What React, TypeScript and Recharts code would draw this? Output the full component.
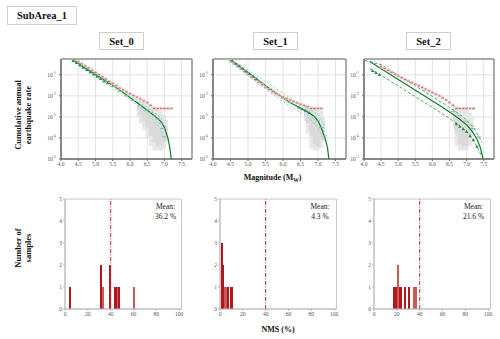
import React from "react";
import {
  ComposedChart,
  BarChart,
  Bar,
  Line,
  Area,
  XAxis,
  YAxis,
  CartesianGrid,
  ReferenceArea,
  ReferenceLine,
} from "recharts";

const FONT = '"Liberation Serif", "DejaVu Serif", serif';

// ---------- ticks / labels ----------
const MAG_TICKS = [4.0, 4.5, 5.0, 5.5, 6.0, 6.5, 7.0, 7.5];
const RATE_EXP_TICKS = [-5, -4, -3, -2, -1];
const NMS_TICKS = [0, 20, 40, 60, 80, 100];
const COUNT_TICKS = [0, 1, 2, 3, 4, 5];
const SET_NAMES = ["Set_0", "Set_1", "Set_2"];
const MEAN_LABELS = ["36.2 %", "4.3 %", "21.6 %"];
const NMS_THRESHOLD = 40;

// ---------- Set_0 (log10 of cumulative annual rate) ----------
const S0_MODEL_M = [4.35, 4.5, 4.75, 5.0, 5.25, 5.5, 5.75, 6.0, 6.25, 6.5, 6.75, 6.9, 7.0, 7.1, 7.15, 7.2];
const S0_MODEL_LOG = [-0.3, -0.45, -0.72, -0.98, -1.24, -1.5, -1.78, -2.08, -2.38, -2.68, -3.0, -3.22, -3.5, -4.0, -4.4, -5.0];
const S0_UP_M = [4.3, 4.75, 5.25, 5.75, 6.25, 6.6, 6.9, 7.05];
const S0_UP_LOG = [-0.22, -0.66, -1.16, -1.68, -2.25, -2.65, -3.05, -3.6];
const S0_LO_M = [4.4, 4.75, 5.25, 5.75, 6.25, 6.6, 6.9, 7.0];
const S0_LO_LOG = [-0.4, -0.8, -1.33, -1.9, -2.5, -3.0, -3.6, -4.1];
const S0_OBS_M = [4.4, 4.5, 4.6, 4.7, 4.8, 4.9, 5.0, 5.1, 5.2, 5.3, 5.4, 5.5, 5.6, 5.7, 5.8, 5.9, 6.0, 6.1, 6.2, 6.3, 6.4, 6.5, 6.6, 6.7, 6.8, 6.9, 7.0, 7.1, 7.2];
const S0_OBS_LOG = [-0.28, -0.38, -0.48, -0.58, -0.68, -0.78, -0.89, -0.99, -1.1, -1.2, -1.31, -1.41, -1.52, -1.63, -1.72, -1.81, -1.9, -1.98, -2.06, -2.15, -2.24, -2.32, -2.45, -2.6, -2.6, -2.6, -2.6, -2.6, -2.6];
const S0_TRI_M = [4.35, 4.45, 4.55, 4.65, 4.75, 4.85, 4.95, 5.05, 5.15, 5.25, 5.35];
const S0_TRI_LOG = [-0.33, -0.43, -0.54, -0.65, -0.76, -0.87, -0.97, -1.08, -1.18, -1.29, -1.39];
const S0_DASH_M = [5.5, 5.7, 5.9, 6.1, 6.3, 6.5, 6.6, 6.7, 6.8, 6.9, 6.95, 7.0];
const S0_DASH_LOG = [-1.55, -1.78, -2.0, -2.22, -2.45, -2.68, -2.8, -2.95, -3.1, -3.3, -3.55, -3.95];
const S0_GRAY_M = [6.2, 6.3, 6.4, 6.5, 6.6, 6.7, 6.8, 6.9, 7.0, 7.1];
const S0_GRAY_OUT_LO = [-3.0, -3.3, -3.6, -4.0, -4.4, -4.6, -4.6, -4.6, -4.5, -4.2];
const S0_GRAY_OUT_HI = [-2.2, -2.25, -2.3, -2.35, -2.4, -2.5, -2.6, -2.7, -2.9, -3.2];
const S0_GRAY_IN_LO = [-2.7, -2.9, -3.2, -3.5, -3.9, -4.2, -4.4, -4.4, -4.2, -3.9];
const S0_GRAY_IN_HI = [-2.3, -2.4, -2.5, -2.6, -2.7, -2.8, -3.0, -3.2, -3.4, -3.5];

// ---------- Set_1 ----------
const S1_MODEL_M = [4.5, 4.75, 5.0, 5.25, 5.5, 5.75, 6.0, 6.25, 6.5, 6.75, 6.9, 7.0, 7.1, 7.2, 7.27, 7.31];
const S1_MODEL_LOG = [-0.28, -0.58, -0.89, -1.2, -1.51, -1.81, -2.1, -2.36, -2.58, -2.82, -2.98, -3.2, -3.55, -4.0, -4.45, -5.0];
const S1_UP_M = [4.35, 4.75, 5.25, 5.75, 6.25, 6.75, 7.0, 7.2];
const S1_UP_LOG = [-0.25, -0.5, -1.05, -1.6, -2.15, -2.6, -2.9, -3.4];
const S1_LO_M = [4.45, 4.75, 5.25, 5.75, 6.25, 6.75, 7.0, 7.2];
const S1_LO_LOG = [-0.38, -0.72, -1.36, -1.98, -2.55, -3.05, -3.55, -4.2];
const S1_OBS_M = [4.5, 4.6, 4.7, 4.8, 4.9, 5.0, 5.1, 5.2, 5.3, 5.4, 5.5, 5.6, 5.7, 5.8, 5.9, 6.0, 6.1, 6.2, 6.3, 6.4, 6.5, 6.6, 6.7, 6.8, 6.9, 7.0, 7.1];
const S1_OBS_LOG = [-0.32, -0.45, -0.58, -0.71, -0.84, -0.97, -1.1, -1.22, -1.35, -1.47, -1.59, -1.7, -1.8, -1.9, -1.98, -2.06, -2.13, -2.2, -2.27, -2.34, -2.4, -2.46, -2.52, -2.6, -2.6, -2.6, -2.6];
const S1_TRI_M = [4.55, 4.65, 4.75, 4.85, 4.95, 5.05, 5.15, 5.25, 6.45, 6.55, 6.65, 6.75];
const S1_TRI_LOG = [-0.34, -0.46, -0.58, -0.7, -0.83, -0.95, -1.07, -1.2, -2.54, -2.62, -2.7, -2.8];
const S1_DASH_M = [5.4, 5.6, 5.8, 6.0, 6.2, 6.9, 7.0, 7.1, 7.2];
const S1_DASH_LOG = [-1.4, -1.65, -1.88, -2.12, -2.32, -3.0, -3.2, -3.5, -3.9];
const S1_GRAY_M = [6.6, 6.7, 6.8, 6.9, 7.0, 7.1, 7.2];
const S1_GRAY_OUT_LO = [-3.2, -3.8, -4.5, -4.6, -4.6, -4.5, -4.0];
const S1_GRAY_OUT_HI = [-2.4, -2.45, -2.5, -2.55, -2.6, -2.7, -3.0];
const S1_GRAY_IN_LO = [-2.9, -3.3, -3.9, -4.3, -4.4, -4.1, -3.7];
const S1_GRAY_IN_HI = [-2.5, -2.6, -2.7, -2.9, -3.1, -3.3, -3.3];

// ---------- Set_2 ----------
const S2_MODEL_M = [4.17, 4.5, 4.75, 5.0, 5.25, 5.5, 5.75, 6.0, 6.25, 6.5, 6.75, 7.0, 7.16, 7.3, 7.4, 7.48];
const S2_MODEL_LOG = [-0.37, -0.71, -0.96, -1.22, -1.47, -1.73, -1.98, -2.24, -2.5, -2.77, -3.05, -3.38, -3.68, -4.05, -4.45, -5.0];
const S2_UP_M = [4.02, 4.5, 5.0, 5.5, 6.0, 6.5, 6.9, 7.2, 7.45];
const S2_UP_LOG = [-0.32, -0.52, -1.02, -1.52, -2.03, -2.55, -3.0, -3.5, -4.2];
const S2_LO_M = [4.17, 4.5, 5.0, 5.5, 6.0, 6.5, 6.9, 7.1, 7.3, 7.45];
const S2_LO_LOG = [-0.7, -1.02, -1.53, -2.04, -2.55, -3.07, -3.55, -3.9, -4.4, -4.9];
const S2_OBS_M = [4.5, 4.6, 4.7, 4.8, 4.9, 5.0, 5.1, 5.2, 5.3, 5.4, 5.5, 5.6, 5.7, 5.8, 5.9, 6.0, 6.1, 6.2, 6.3, 6.4, 6.5, 6.6, 6.7, 6.8, 6.9, 7.0, 7.1, 7.2];
const S2_OBS_LOG = [-0.62, -0.7, -0.79, -0.88, -0.97, -1.06, -1.14, -1.22, -1.3, -1.37, -1.44, -1.52, -1.6, -1.68, -1.76, -1.84, -1.92, -2.0, -2.1, -2.2, -2.32, -2.45, -2.6, -2.6, -2.6, -2.6, -2.6, -2.6];
const S2_TRI_M = [4.25, 4.35, 4.45, 6.7, 6.8, 6.9, 7.0, 7.1, 7.2, 7.3];
const S2_TRI_LOG = [-0.8, -0.9, -0.99, -3.34, -3.45, -3.57, -3.7, -3.9, -4.1, -4.4];
const S2_DASH_M = [6.6, 6.8, 7.0, 7.2, 7.35];
const S2_DASH_LOG = [-2.75, -2.95, -3.2, -3.55, -3.95];
const S2_GRAY_M = [6.6, 6.7, 6.8, 6.9, 7.0, 7.1, 7.2];
const S2_GRAY_OUT_LO = [-3.6, -4.4, -4.6, -4.6, -4.6, -4.4, -4.0];
const S2_GRAY_OUT_HI = [-2.4, -2.5, -2.55, -2.6, -2.65, -2.8, -3.0];
const S2_GRAY_IN_LO = [-3.2, -3.8, -4.3, -4.4, -4.4, -4.0, -3.6];
const S2_GRAY_IN_HI = [-2.6, -2.8, -3.0, -3.1, -3.2, -3.3, -3.3];

// ---------- NMS histograms ----------
const H0_X = [4, 31.5, 33.5, 39.5, 43.5, 45.5, 46.5, 47.5, 60.5];
const H0_N = [1, 2, 1, 2, 1, 1, 1, 1, 1];
const H0_LIGHT = [0, 0, 1, 0, 0, 0, 1, 0, 1];
const H1_X = [1.7, 2.6, 4.2, 5.2, 7.2, 9.5, 10.6];
const H1_N = [3, 2, 1, 1, 1, 1, 1];
const H1_LIGHT = [0, 0, 1, 1, 0, 0, 0];
const H2_X = [18, 19.5, 21.3, 22.5, 24, 27, 31, 35.5, 37];
const H2_N = [1, 1, 2, 1, 1, 1, 1, 1, 1];
const H2_LIGHT = [0, 0, 1, 0, 0, 0, 0, 1, 1];

// ---------- helpers ----------
const pts = (ms: number[], vs: number[]) => ms.map((m, i) => ({ m, v: vs[i] }));
const grayRows = (ms: number[], olo: number[], ohi: number[], ilo: number[], ihi: number[]) =>
  ms.map((m, i) => ({ m, outer: [olo[i], ohi[i]], inner: [ilo[i], ihi[i]] }));
const histRows = (xs: number[], ns: number[], ls: number[]) => xs.map((x, i) => ({ x, n: ns[i], light: ls[i] }));

const SETS = [
  {
    model: pts(S0_MODEL_M, S0_MODEL_LOG), up: pts(S0_UP_M, S0_UP_LOG), lo: pts(S0_LO_M, S0_LO_LOG),
    obs: pts(S0_OBS_M, S0_OBS_LOG), tri: pts(S0_TRI_M, S0_TRI_LOG), dash: pts(S0_DASH_M, S0_DASH_LOG),
    gray: grayRows(S0_GRAY_M, S0_GRAY_OUT_LO, S0_GRAY_OUT_HI, S0_GRAY_IN_LO, S0_GRAY_IN_HI),
    boundColor: "#8fd6bd", boundDash: "2 2",
  },
  {
    model: pts(S1_MODEL_M, S1_MODEL_LOG), up: pts(S1_UP_M, S1_UP_LOG), lo: pts(S1_LO_M, S1_LO_LOG),
    obs: pts(S1_OBS_M, S1_OBS_LOG), tri: pts(S1_TRI_M, S1_TRI_LOG), dash: pts(S1_DASH_M, S1_DASH_LOG),
    gray: grayRows(S1_GRAY_M, S1_GRAY_OUT_LO, S1_GRAY_OUT_HI, S1_GRAY_IN_LO, S1_GRAY_IN_HI),
    boundColor: "#8fd6bd", boundDash: "2 2",
  },
  {
    model: pts(S2_MODEL_M, S2_MODEL_LOG), up: pts(S2_UP_M, S2_UP_LOG), lo: pts(S2_LO_M, S2_LO_LOG),
    obs: pts(S2_OBS_M, S2_OBS_LOG), tri: pts(S2_TRI_M, S2_TRI_LOG), dash: pts(S2_DASH_M, S2_DASH_LOG),
    gray: grayRows(S2_GRAY_M, S2_GRAY_OUT_LO, S2_GRAY_OUT_HI, S2_GRAY_IN_LO, S2_GRAY_IN_HI),
    boundColor: "#45a873", boundDash: "3 2",
  },
];
const HISTS = [histRows(H0_X, H0_N, H0_LIGHT), histRows(H1_X, H1_N, H1_LIGHT), histRows(H2_X, H2_N, H2_LIGHT)];

// layout
const TOP_PANELS = [
  { left: 61, width: 131 },
  { left: 213, width: 133 },
  { left: 364, width: 130 },
];
const BOT_PANELS = [
  { left: 65, width: 116.5 },
  { left: 219.5, width: 116.5 },
  { left: 373.5, width: 116.5 },
];
const SET_BOXES = [99, 253, 406];

const PowTick = (props: any) => {
  const { x, y, payload } = props;
  return (
    <text x={x - 1} y={y + 2} textAnchor="end" fontSize={5.5} fill="#555" fontFamily={FONT}>
      10
      <tspan fontSize={3.8} dy={-2.6}>{`-${Math.abs(payload.value)}`}</tspan>
    </text>
  );
};

const squareDot = (p: any) => {
  if (p.cx == null || p.cy == null) return <g key={p.index} />;
  return (
    <g key={p.index}>
      <rect x={p.cx - 1.6} y={p.cy - 1.6} width={3.2} height={3.2} fill="#e6c3c3" fillOpacity={0.85} />
      <line x1={p.cx - 1.1} x2={p.cx + 1.1} y1={p.cy} y2={p.cy} stroke="#c05555" strokeWidth={0.8} />
    </g>
  );
};
const triDot = (p: any) => {
  if (p.cx == null || p.cy == null) return <g key={p.index} />;
  return (
    <polygon
      key={p.index}
      points={`${p.cx - 1.7},${p.cy + 1.3} ${p.cx + 1.7},${p.cy + 1.3} ${p.cx},${p.cy - 1.7}`}
      fill="#2a8a48"
    />
  );
};
const dashDot = (p: any) => {
  if (p.cx == null || p.cy == null) return <g key={p.index} />;
  return (
    <line key={p.index} x1={p.cx - 2.2} x2={p.cx + 2.2} y1={p.cy} y2={p.cy} stroke="#6cc7a3" strokeWidth={1} />
  );
};

const histBar = (p: any) => {
  const { x, y, width, height, payload } = p;
  if (x == null || !height) return <g />;
  const light = payload && payload.light;
  return (
    <rect
      x={Math.round(x + width / 2) - 1}
      y={y}
      width={2}
      height={height}
      fill={light ? "#c85a5a" : "#b3161c"}
      shapeRendering="crispEdges"
    />
  );
};

function TopPanel({ idx }: { idx: number }) {
  const s = SETS[idx];
  const { left, width } = TOP_PANELS[idx];
  const Yw = 22, mt = 4, mr = 4, Xh = 14, plotH = 100, plotTop = 59;
  return (
    <div style={{ position: "absolute", left: left - Yw, top: plotTop - mt }}>
      <ComposedChart
        width={Yw + width + mr}
        height={mt + plotH + Xh}
        data={s.gray}
        margin={{ top: mt, right: mr, left: 0, bottom: 0 }}
      >
        <CartesianGrid stroke="#dcdcdc" strokeWidth={0.8} />
        <XAxis
          type="number"
          dataKey="m"
          domain={[4, 7.8]}
          ticks={MAG_TICKS}
          interval={0}
          allowDataOverflow
          height={Xh}
          tickSize={2}
          tickMargin={1}
          stroke="#666"
          tick={{ fontSize: 5.5, fill: "#555", fontFamily: FONT }}
          tickFormatter={(v: number) => v.toFixed(1)}
        />
        <YAxis
          type="number"
          domain={[-5, -0.25]}
          ticks={RATE_EXP_TICKS}
          interval={0}
          allowDataOverflow
          width={Yw}
          tickSize={2}
          stroke="#666"
          tick={<PowTick />}
        />
        <Area dataKey="outer" type="step" stroke="none" fill="#e3e3e3" fillOpacity={0.85} isAnimationActive={false} />
        <Area dataKey="inner" type="step" stroke="none" fill="#d0d0d0" fillOpacity={0.55} isAnimationActive={false} />
        <Line data={s.up} dataKey="v" stroke={s.boundColor} strokeWidth={1} strokeDasharray={s.boundDash} dot={false} isAnimationActive={false} />
        <Line data={s.lo} dataKey="v" stroke={s.boundColor} strokeWidth={1} strokeDasharray={s.boundDash} dot={false} isAnimationActive={false} />
        <Line data={s.dash} dataKey="v" stroke="none" dot={dashDot} activeDot={false} isAnimationActive={false} />
        <Line data={s.obs} dataKey="v" stroke="none" dot={squareDot} activeDot={false} isAnimationActive={false} />
        <Line data={s.tri} dataKey="v" stroke="none" dot={triDot} activeDot={false} isAnimationActive={false} />
        <Line data={s.model} dataKey="v" stroke="#137a2a" strokeWidth={1.2} dot={false} isAnimationActive={false} />
        <ReferenceArea x1={4} x2={7.8} y1={-5} y2={-0.25} fill="none" stroke="#666" strokeWidth={1} ifOverflow="visible" />
      </ComposedChart>
    </div>
  );
}

function BottomPanel({ idx }: { idx: number }) {
  const rows = HISTS[idx];
  const { left, width } = BOT_PANELS[idx];
  const Yw = 14, mt = 5, mr = 4, Xh = 14, plotH = 110, plotTop = 199;
  return (
    <div style={{ position: "absolute", left: left - Yw, top: plotTop - mt }}>
      <BarChart
        width={Yw + width + mr}
        height={mt + plotH + Xh}
        data={rows}
        margin={{ top: mt, right: mr, left: 0, bottom: 0 }}
      >
        <XAxis
          type="number"
          dataKey="x"
          domain={[0, 102]}
          ticks={NMS_TICKS}
          interval={0}
          allowDataOverflow
          height={Xh}
          tickSize={2}
          tickMargin={1}
          stroke="#bbb"
          tick={{ fontSize: 5.5, fill: "#555", fontFamily: FONT }}
        />
        <YAxis
          type="number"
          domain={[0, 5]}
          ticks={COUNT_TICKS}
          interval={0}
          allowDataOverflow
          width={Yw}
          tickSize={2}
          tickMargin={1}
          stroke="#bbb"
          tick={{ fontSize: 5.5, fill: "#555", fontFamily: FONT }}
        />
        <ReferenceArea x1={0} x2={102} y1={0} y2={5} fill="none" stroke="#c8c8c8" strokeWidth={1} ifOverflow="visible" />
        <Bar dataKey="n" barSize={2} shape={histBar} isAnimationActive={false} />
        <ReferenceLine x={NMS_THRESHOLD} stroke="#c0282e" strokeWidth={1} strokeDasharray="4 1.5 1 1.5" ifOverflow="visible" />
      </BarChart>
    </div>
  );
}

const boxStyle: React.CSSProperties = {
  position: "absolute",
  border: "1px solid #cfcfcf",
  background: "#fff",
  fontFamily: FONT,
  fontWeight: "bold",
  fontSize: 10.5,
  color: "#111",
  display: "flex",
  alignItems: "center",
  justifyContent: "center",
  boxSizing: "border-box",
};

const rotTitle = (cy: number, lines: string[]): React.ReactNode => (
  <div
    style={{
      position: "absolute",
      left: 23,
      top: cy,
      transform: "translate(-50%, -50%) rotate(-90deg)",
      fontFamily: FONT,
      fontWeight: "bold",
      fontSize: 8.5,
      lineHeight: "10px",
      textAlign: "center",
      whiteSpace: "nowrap",
      color: "#111",
    }}
  >
    {lines.map((l, i) => (
      <div key={i}>{l}</div>
    ))}
  </div>
);

export default function App() {
  const meanCenters = [165.5, 320, 473.5];
  return (
    <div style={{ position: "absolute", left: 0, top: 0, width: 500, height: 339, background: "#fff", overflow: "hidden" }}>
      <div style={{ ...boxStyle, left: 7, top: 6, width: 70, height: 19 }}>SubArea_1</div>
      {SET_NAMES.map((n, i) => (
        <div key={n} style={{ ...boxStyle, left: SET_BOXES[i], top: 32, width: 45, height: 18 }}>
          {n}
        </div>
      ))}
      {[0, 1, 2].map((i) => (
        <TopPanel key={"t" + i} idx={i} />
      ))}
      {[0, 1, 2].map((i) => (
        <BottomPanel key={"b" + i} idx={i} />
      ))}
      {rotTitle(115, ["Cumulative annual", "earthquake rate"])}
      {rotTitle(248, ["Number of", "samples"])}
      <div
        style={{
          position: "absolute",
          left: 272.5,
          top: 178,
          transform: "translate(-50%, -50%)",
          fontFamily: FONT,
          fontWeight: "bold",
          fontSize: 8,
          whiteSpace: "nowrap",
          color: "#111",
        }}
      >
        Magnitude (M<sub style={{ fontSize: 5.5 }}>W</sub>)
      </div>
      <div
        style={{
          position: "absolute",
          left: 278,
          top: 329,
          transform: "translate(-50%, -50%)",
          fontFamily: FONT,
          fontWeight: "bold",
          fontSize: 8,
          whiteSpace: "nowrap",
          color: "#111",
        }}
      >
        NMS (%)
      </div>
      {MEAN_LABELS.map((m, i) => (
        <div
          key={m}
          style={{
            position: "absolute",
            left: meanCenters[i],
            top: 202,
            transform: "translateX(-50%)",
            fontFamily: FONT,
            fontSize: 7.5,
            lineHeight: "9.5px",
            textAlign: "center",
            whiteSpace: "nowrap",
            color: "#222",
          }}
        >
          <div>Mean:</div>
          <div>{m}</div>
        </div>
      ))}
    </div>
  );
}
